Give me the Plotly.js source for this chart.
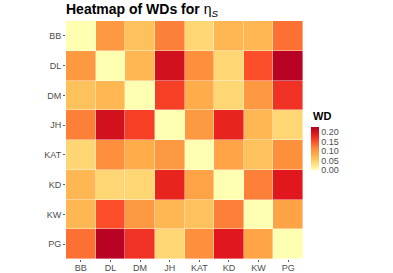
<!DOCTYPE html>
<html>
<head>
<meta charset="utf-8">
<script src="https://cdn.plot.ly/plotly-3.0.1.min.js"></script>
<style>html,body{margin:0;padding:0;background:#fff;}</style>
</head>
<body>
<div id="chart" style="width:393px;height:273px;"></div>
<script>
const categories = ["BB", "DL", "DM", "JH", "KAT", "KD", "KW", "PG"];
const rowBB  = [0.00, 0.10, 0.06, 0.12, 0.04, 0.07, 0.07, 0.13];
const rowDL  = [0.10, 0.00, 0.07, 0.20, 0.11, 0.04, 0.15, 0.22];
const rowDM  = [0.06, 0.07, 0.00, 0.16, 0.08, 0.04, 0.10, 0.17];
const rowJH  = [0.12, 0.20, 0.16, 0.00, 0.10, 0.18, 0.07, 0.04];
const rowKAT = [0.04, 0.11, 0.08, 0.10, 0.00, 0.09, 0.06, 0.11];
const rowKD  = [0.07, 0.04, 0.04, 0.18, 0.09, 0.00, 0.12, 0.19];
const rowKW  = [0.07, 0.15, 0.10, 0.07, 0.06, 0.12, 0.00, 0.09];
const rowPG  = [0.13, 0.22, 0.17, 0.04, 0.11, 0.19, 0.09, 0.00];
const colorTicks = [0.00, 0.05, 0.10, 0.15, 0.20];

const z = [rowBB, rowDL, rowDM, rowJH, rowKAT, rowKD, rowKW, rowPG];
const ylorrd = ["#FFFFB2", "#FED976", "#FEB24C", "#FD8D3C", "#FC4E2A", "#E31A1C", "#B10026"];
const colorscale = ylorrd.map((c, i) => [i / (ylorrd.length - 1), c]);

const trace = {
  type: "heatmap",
  x: categories,
  y: categories,
  z: z,
  zmin: 0,
  zmax: 0.225,
  colorscale: colorscale,
  xgap: 0.4,
  ygap: 0.4,
  hoverongaps: false,
  colorbar: {
    x: 1.034, xanchor: "left", xref: "paper",
    y: 0.464, yanchor: "middle",
    len: 43, lenmode: "pixels",
    thickness: 8, thicknessmode: "pixels",
    outlinewidth: 0,
    tickvals: colorTicks,
    ticktext: colorTicks.map(v => v.toFixed(2)),
    ticks: "",
    tickfont: {family: "Liberation Sans, Arial, sans-serif", size: 9, color: "#4D4D4D"},
    xpad: 0, ypad: 0
  }
};

const layout = {
  width: 393, height: 273,
  margin: {l: 66, r: 90, t: 21, b: 14, pad: 0},
  paper_bgcolor: "#ffffff",
  plot_bgcolor: "#ffffff",
  font: {family: "Liberation Sans, Arial, sans-serif", color: "#4D4D4D"},
  title: {
    text: "<b>Heatmap of WDs for</b> η<sub><i>S</i></sub>",
    font: {size: 14, color: "#000000"},
    x: 0, xanchor: "left", xref: "paper",
    y: 1 - 9 / 273, yanchor: "middle", yref: "container"
  },
  xaxis: {
    type: "category",
    categoryorder: "array", categoryarray: categories,
    ticks: "outside", ticklen: 2, tickcolor: "#333333", tickwidth: 0.8,
    ticklabelstandoff: -2,
    tickfont: {size: 9, color: "#4D4D4D"},
    showgrid: false, zeroline: false, showline: false,
    fixedrange: true
  },
  yaxis: {
    type: "category",
    categoryorder: "array", categoryarray: categories,
    autorange: "reversed",
    ticks: "outside", ticklen: 2, tickcolor: "#333333", tickwidth: 0.8,
    tickfont: {size: 9, color: "#4D4D4D"},
    showgrid: false, zeroline: false, showline: false,
    fixedrange: true
  },
  annotations: [{
    text: "<b>WD</b>",
    xref: "paper", yref: "paper",
    x: (311 - 66) / 237, xanchor: "left",
    y: (259 - 116) / 238, yanchor: "middle",
    showarrow: false,
    font: {size: 11, color: "#000000"}
  }]
};

Plotly.newPlot("chart", [trace], layout, {displayModeBar: false, staticPlot: true});
</script>
</body>
</html>
